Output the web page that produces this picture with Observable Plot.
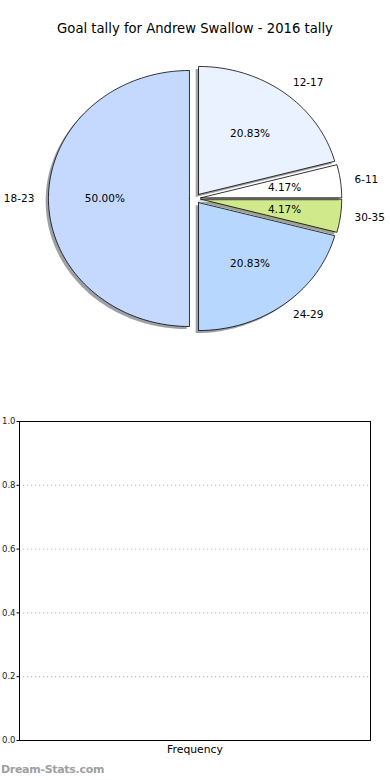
<!DOCTYPE html>
<html>
<head>
<meta charset="utf-8">
<script src="https://cdn.jsdelivr.net/npm/d3@7"></script>
<script src="https://cdn.jsdelivr.net/npm/@observablehq/plot@0.6"></script>
<style>
  html, body { margin: 0; padding: 0; background: #fff; }
  #wrap { position: relative; width: 390px; height: 780px; overflow: hidden; font-family: "DejaVu Sans", sans-serif; }
  #title { position: absolute; left: 0; width: 390px; top: 21px; text-align: center; font-size: 13.2px; color: #000; }
  #pie { position: absolute; left: 0; top: 0; }
  #bars { position: absolute; left: 0; top: 410px; }
  #mark { position: absolute; left: 1px; top: 763px; font-size: 11px; font-weight: bold; color: #a0a0a0; font-family: "DejaVu Sans", sans-serif; letter-spacing: -0.3px; }
</style>
</head>
<body>
<div id="wrap">
  <div id="pie"></div>
  <div id="title">Goal tally for Andrew Swallow - 2016 tally</div>
  <div id="bars"></div>
  <div id="mark">Dream-Stats.com</div>
</div>
<script>
// ---- data (counterclockwise from 12 o'clock) ----
const ageGroups = ["18-23", "24-29", "30-35", "6-11", "12-17"];
const goals = [12, 5, 1, 1, 5];
const sliceColors = ["#c5d9ff", "#b7d7ff", "#d0ea8b", "#ffffff", "#eaf1ff"];
const yTicks = [0, 0.2, 0.4, 0.6, 0.8, 1.0];
const xLabel = "Frequency";

// ---- pie geometry derived from data ----
const total = d3.sum(goals);
const explode = 0.04, shadowOff = -0.02, labelDist = 1.1, pctDist = 0.6;
const slices = [];
let acc = 0;
goals.forEach((v, i) => {
  const t1 = 90 + acc / total * 360;
  acc += v;
  const t2 = 90 + acc / total * 360;
  const mid = (t1 + t2) / 2 * Math.PI / 180;
  const ox = explode * Math.cos(mid), oy = explode * Math.sin(mid);
  const n = Math.max(2, Math.ceil((t2 - t1) / 1));
  const pts = [[ox, oy]];
  for (let k = 0; k <= n; k++) {
    const a = (t1 + (t2 - t1) * k / n) * Math.PI / 180;
    pts.push([ox + Math.cos(a), oy + Math.sin(a)]);
  }
  pts.push([ox, oy]);
  const c = d3.rgb(sliceColors[i]);
  slices.push({
    key: ageGroups[i],
    color: sliceColors[i],
    shadowColor: d3.rgb(c.r * 0.3, c.g * 0.3, c.b * 0.3).formatHex(),
    wedge: pts.map(([x, y]) => ({x, y})),
    shadow: pts.map(([x, y]) => ({x: x + shadowOff, y: y + shadowOff})),
    lx: ox + labelDist * Math.cos(mid), ly: oy + labelDist * Math.sin(mid),
    px: ox + pctDist * Math.cos(mid), py: oy + pctDist * Math.sin(mid),
    pct: (v / total * 100).toFixed(2) + "%"
  });
});

const cx = 194.6, cy = 198, rx = 141, ry = 128;
const pieMarks = [];
slices.forEach(s => {
  pieMarks.push(Plot.line(s.shadow, {x: "x", y: "y", fill: s.shadowColor, fillOpacity: 0.5, stroke: "none"}));
  pieMarks.push(Plot.line(s.wedge, {x: "x", y: "y", fill: s.color, stroke: "#000", strokeWidth: 0.8, strokeLinejoin: "round"}));
});
pieMarks.push(Plot.text(slices.filter(s => s.lx >= 0), {x: "lx", y: "ly", text: "key", textAnchor: "start", fontSize: 10.5, fill: "#000"}));
pieMarks.push(Plot.text(slices.filter(s => s.lx < 0), {x: "lx", y: "ly", text: "key", textAnchor: "end", fontSize: 10.5, fill: "#000"}));
pieMarks.push(Plot.text(slices, {x: "px", y: "py", text: "pct", textAnchor: "middle", fontSize: 10.5, fill: "#000"}));

const pie = Plot.plot({
  width: 390, height: 380,
  style: {fontFamily: "DejaVu Sans, sans-serif", background: "transparent", overflow: "visible"},
  x: {domain: [-1, 1], range: [cx - rx, cx + rx], axis: null},
  y: {domain: [-1, 1], range: [cy + ry, cy - ry], axis: null},
  marks: pieMarks
});
document.getElementById("pie").appendChild(pie);

// ---- empty frequency chart ----
const bars = Plot.plot({
  width: 390, height: 350,
  marginTop: 11, marginBottom: 20, marginLeft: 19, marginRight: 20,
  style: {fontFamily: "DejaVu Sans, sans-serif", background: "transparent", overflow: "visible"},
  y: {domain: [0, 1], axis: null},
  marks: [
    Plot.gridY(yTicks, {stroke: "#b0b0b0", strokeOpacity: 1, strokeDasharray: "1.2,2.8", strokeWidth: 1}),
    Plot.axisY(yTicks, {tickFormat: d3.format(".1f"), fontSize: 8.5, tickSize: 2.5, tickPadding: 1.5, stroke: "#000", fill: "#222", label: null}),
    Plot.frame({stroke: "#000", strokeWidth: 1}),
    Plot.text([xLabel], {text: d => d, frameAnchor: "bottom", dy: 12, fontSize: 10.8, fill: "#000"})
  ]
});
document.getElementById("bars").appendChild(bars);
</script>
</body>
</html>
